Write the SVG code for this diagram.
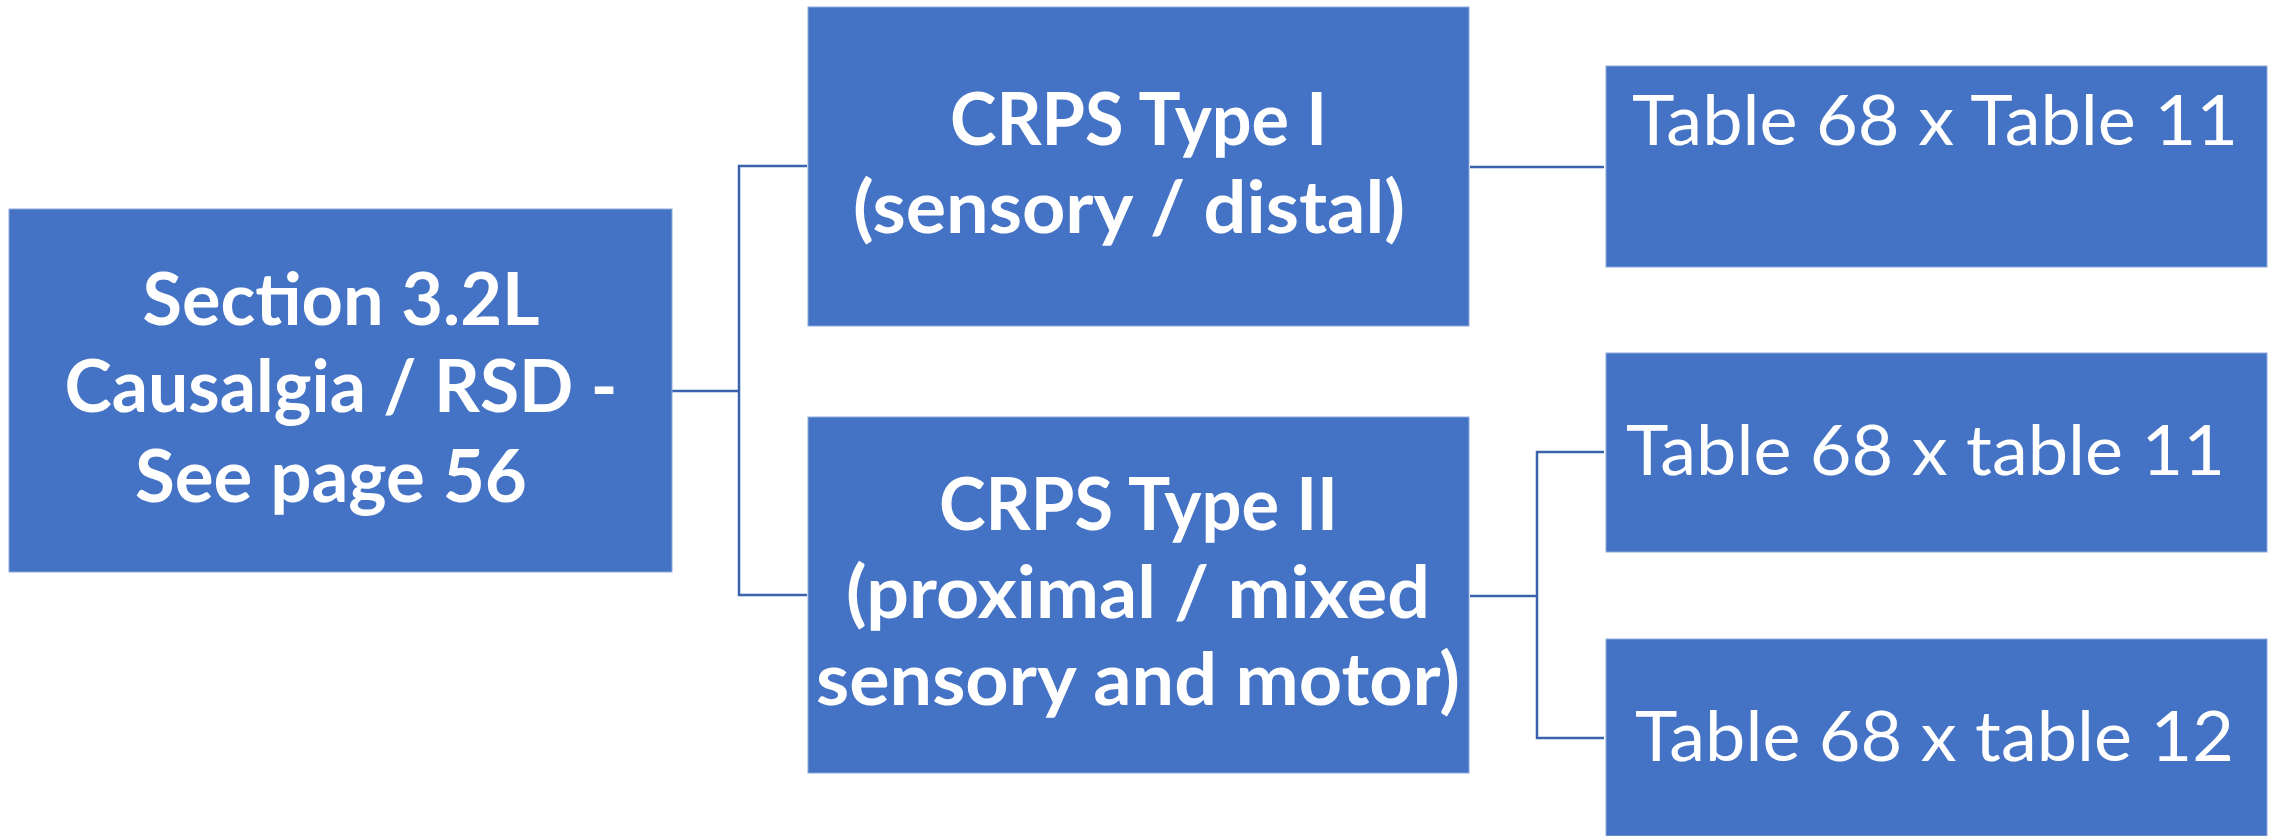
<svg xmlns="http://www.w3.org/2000/svg" width="2269" height="836" viewBox="0 0 2269 836">
<style>
.box{fill:#4472C4;stroke:#8FAADC;stroke-width:1}
.b{font-family:Lato,"Open Sans","Liberation Sans",sans-serif;font-weight:bold;font-size:72px;fill:#FFFFFF;text-anchor:middle}
.r{font-family:Lato,"Open Sans","Liberation Sans",sans-serif;font-weight:normal;font-size:70px;fill:#FFFFFF;text-anchor:middle}
.c{fill:none;stroke:#3B63AD;stroke-width:2.5}
</style>
<rect width="2269" height="836" fill="#FFFFFF"/>
<g id="connectors">
<polyline class="c" points="672,391 739,391"/>
<polyline class="c" points="807,166 739,166 739,595 807,595"/>
<polyline class="c" points="1470,167 1604,167"/>
<polyline class="c" points="1470,596 1537,596"/>
<polyline class="c" points="1604,452 1537,452 1537,738 1604,738"/>
</g>
<g id="node-section">
<rect class="box" x="9" y="209" width="663" height="363"/>
<text class="b" x="341" y="325" textLength="397" lengthAdjust="spacingAndGlyphs">Section 3.2L</text>
<text class="b" x="341" y="412" textLength="553" lengthAdjust="spacingAndGlyphs">Causalgia / RSD -</text>
<text class="b" x="331" y="502" textLength="392" lengthAdjust="spacingAndGlyphs">See page 56</text>
</g>
<g id="node-crps1">
<rect class="box" x="808" y="7" width="661" height="319"/>
<text class="b" x="1138.5" y="145" textLength="377" lengthAdjust="spacingAndGlyphs">CRPS Type I</text>
<text class="b" x="1129" y="233" textLength="552" lengthAdjust="spacingAndGlyphs">(sensory / distal)</text>
</g>
<g id="node-crps2">
<rect class="box" x="808" y="417" width="661" height="356"/>
<text class="b" x="1138.5" y="530" textLength="399" lengthAdjust="spacingAndGlyphs">CRPS Type II</text>
<text class="b" x="1138" y="618" textLength="584" lengthAdjust="spacingAndGlyphs">(proximal / mixed</text>
<text class="b" x="1138" y="705" textLength="644" lengthAdjust="spacingAndGlyphs">sensory and motor)</text>
</g>
<g id="node-t1">
<rect class="box" x="1606" y="66" width="661" height="201"/>
<text class="r" x="1935" y="145" textLength="606" lengthAdjust="spacingAndGlyphs">Table 68 x Table 11</text>
</g>
<g id="node-t2">
<rect class="box" x="1606" y="353" width="661" height="199"/>
<text class="r" x="1925.5" y="475" textLength="599" lengthAdjust="spacingAndGlyphs">Table 68 x table 11</text>
</g>
<g id="node-t3">
<rect class="box" x="1606" y="639" width="661" height="197"/>
<text class="r" x="1934.5" y="761" textLength="599" lengthAdjust="spacingAndGlyphs">Table 68 x table 12</text>
</g>
</svg>
